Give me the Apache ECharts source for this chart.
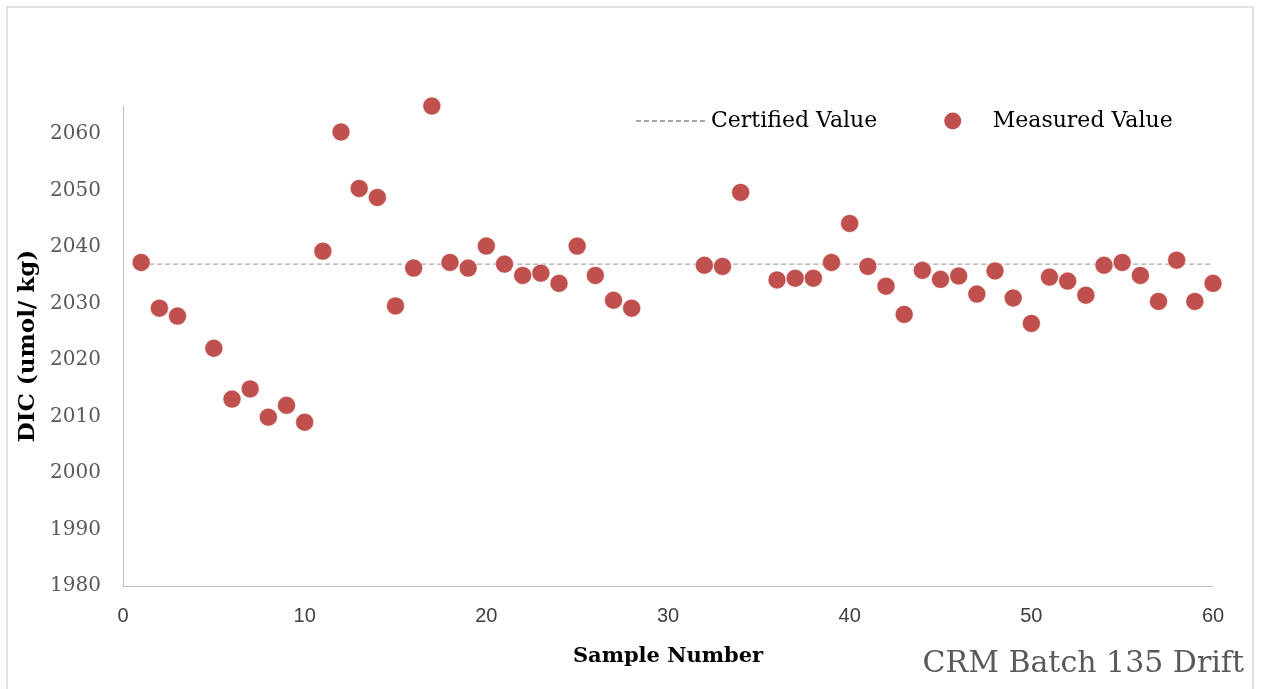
<!DOCTYPE html>
<html>
<head>
<meta charset="utf-8">
<script src="https://cdn.jsdelivr.net/npm/echarts@6/dist/echarts.min.js"></script>
<style>
  html, body { margin: 0; padding: 0; background: #fff; }
  #chart { width: 1264px; height: 689px; }
</style>
</head>
<body>
<div id="chart"></div>
<script>
// sample numbers and measured DIC values (samples 4, 29-31 and 35 are missing)
var samples = [1, 2, 3, 5, 6, 7, 8, 9, 10, 11, 12, 13, 14, 15, 16, 17, 18, 19, 20,
  21, 22, 23, 24, 25, 26, 27, 28, 32, 33, 34, 36, 37, 38, 39, 40,
  41, 42, 43, 44, 45, 46, 47, 48, 49, 50, 51, 52, 53, 54, 55, 56, 57, 58, 59, 60];
var measured = [2037.3, 2029.2, 2027.8, 2022.1, 2013.1, 2014.9, 2009.9, 2012.0, 2009.0,
  2039.3, 2060.4, 2050.4, 2048.8, 2029.6, 2036.3, 2065.0, 2037.3, 2036.3, 2040.2,
  2037.0, 2035.0, 2035.4, 2033.6, 2040.2, 2035.0, 2030.6, 2029.2,
  2036.8, 2036.6, 2049.7, 2034.2, 2034.5, 2034.5, 2037.3, 2044.2,
  2036.6, 2033.1, 2028.1, 2035.9, 2034.3, 2034.9, 2031.7, 2035.8, 2031.0, 2026.5,
  2034.7, 2034.0, 2031.5, 2036.8, 2037.3, 2035.0, 2030.4, 2037.7, 2030.4, 2033.6];
// certified value drawn from first to last sample
var certifiedX = [1, 60];
var certifiedValue = 2037;

var chart = echarts.init(document.getElementById('chart'));

var measuredData = samples.map(function (s, i) { return [s, measured[i]]; });
var certifiedData = certifiedX.map(function (s) { return [s, certifiedValue]; });

var option = {
  animation: false,
  backgroundColor: '#fff',
  title: {
    text: 'CRM Batch 135 Drift',
    right: 15,
    top: 644,
    textStyle: { fontFamily: 'DejaVu Serif', fontSize: 30, fontWeight: 'normal', color: '#595959' }
  },
  graphic: [{
    type: 'rect',
    shape: { x: 7, y: 7, width: 1246, height: 700 },
    style: { fill: 'none', stroke: '#D9D9D9', lineWidth: 1.5 },
    silent: true
  }],
  legend: {
    left: 630,
    top: 105,
    itemWidth: 70,
    itemHeight: 19,
    itemGap: 65,
    data: [
      { name: 'Certified Value', itemStyle: { opacity: 0 } },
      { name: 'Measured Value' }
    ],
    textStyle: { fontFamily: 'DejaVu Serif', fontSize: 22, color: '#000' }
  },
  grid: { left: 123, right: 51, top: 106, bottom: 103 },
  xAxis: {
    type: 'value',
    min: 0,
    max: 60,
    interval: 10,
    name: 'Sample Number',
    nameLocation: 'middle',
    nameGap: 60,
    nameTextStyle: { fontFamily: 'DejaVu Serif', fontSize: 21, fontWeight: 'bold', color: '#000' },
    axisLine: { lineStyle: { color: '#BFBFBF', width: 1 } },
    axisTick: { show: false },
    splitLine: { show: false },
    axisLabel: { margin: 20, fontFamily: 'Liberation Sans', fontSize: 20, color: '#404040' }
  },
  yAxis: {
    type: 'value',
    min: 1980,
    max: 2065,
    interval: 10,
    name: 'DIC (umol/ kg)',
    nameLocation: 'middle',
    nameGap: 65,
    nameTextStyle: { fontFamily: 'DejaVu Serif', fontSize: 23, fontWeight: 'bold', color: '#000' },
    axisLine: { show: true, lineStyle: { color: '#BFBFBF', width: 1 } },
    axisTick: { show: false },
    splitLine: { show: false },
    axisLabel: {
      margin: 22,
      padding: [4, 0, 0, 0],
      fontFamily: 'DejaVu Serif',
      fontSize: 20,
      color: '#595959',
      formatter: function (v) { return v % 10 === 0 ? String(v) : ''; }
    }
  },
  series: [
    {
      name: 'Certified Value',
      type: 'line',
      data: certifiedData,
      symbol: 'none',
      lineStyle: { color: '#A6A6A6', width: 1.2, type: [5, 3] },
      itemStyle: { color: '#A6A6A6' },
      z: 1
    },
    {
      name: 'Measured Value',
      type: 'scatter',
      data: measuredData,
      symbol: 'circle',
      symbolSize: 18,
      itemStyle: { color: '#C0504D', opacity: 1, borderColor: '#fff', borderWidth: 0.5 },
      z: 2
    }
  ]
};

chart.setOption(option);
</script>
</body>
</html>
